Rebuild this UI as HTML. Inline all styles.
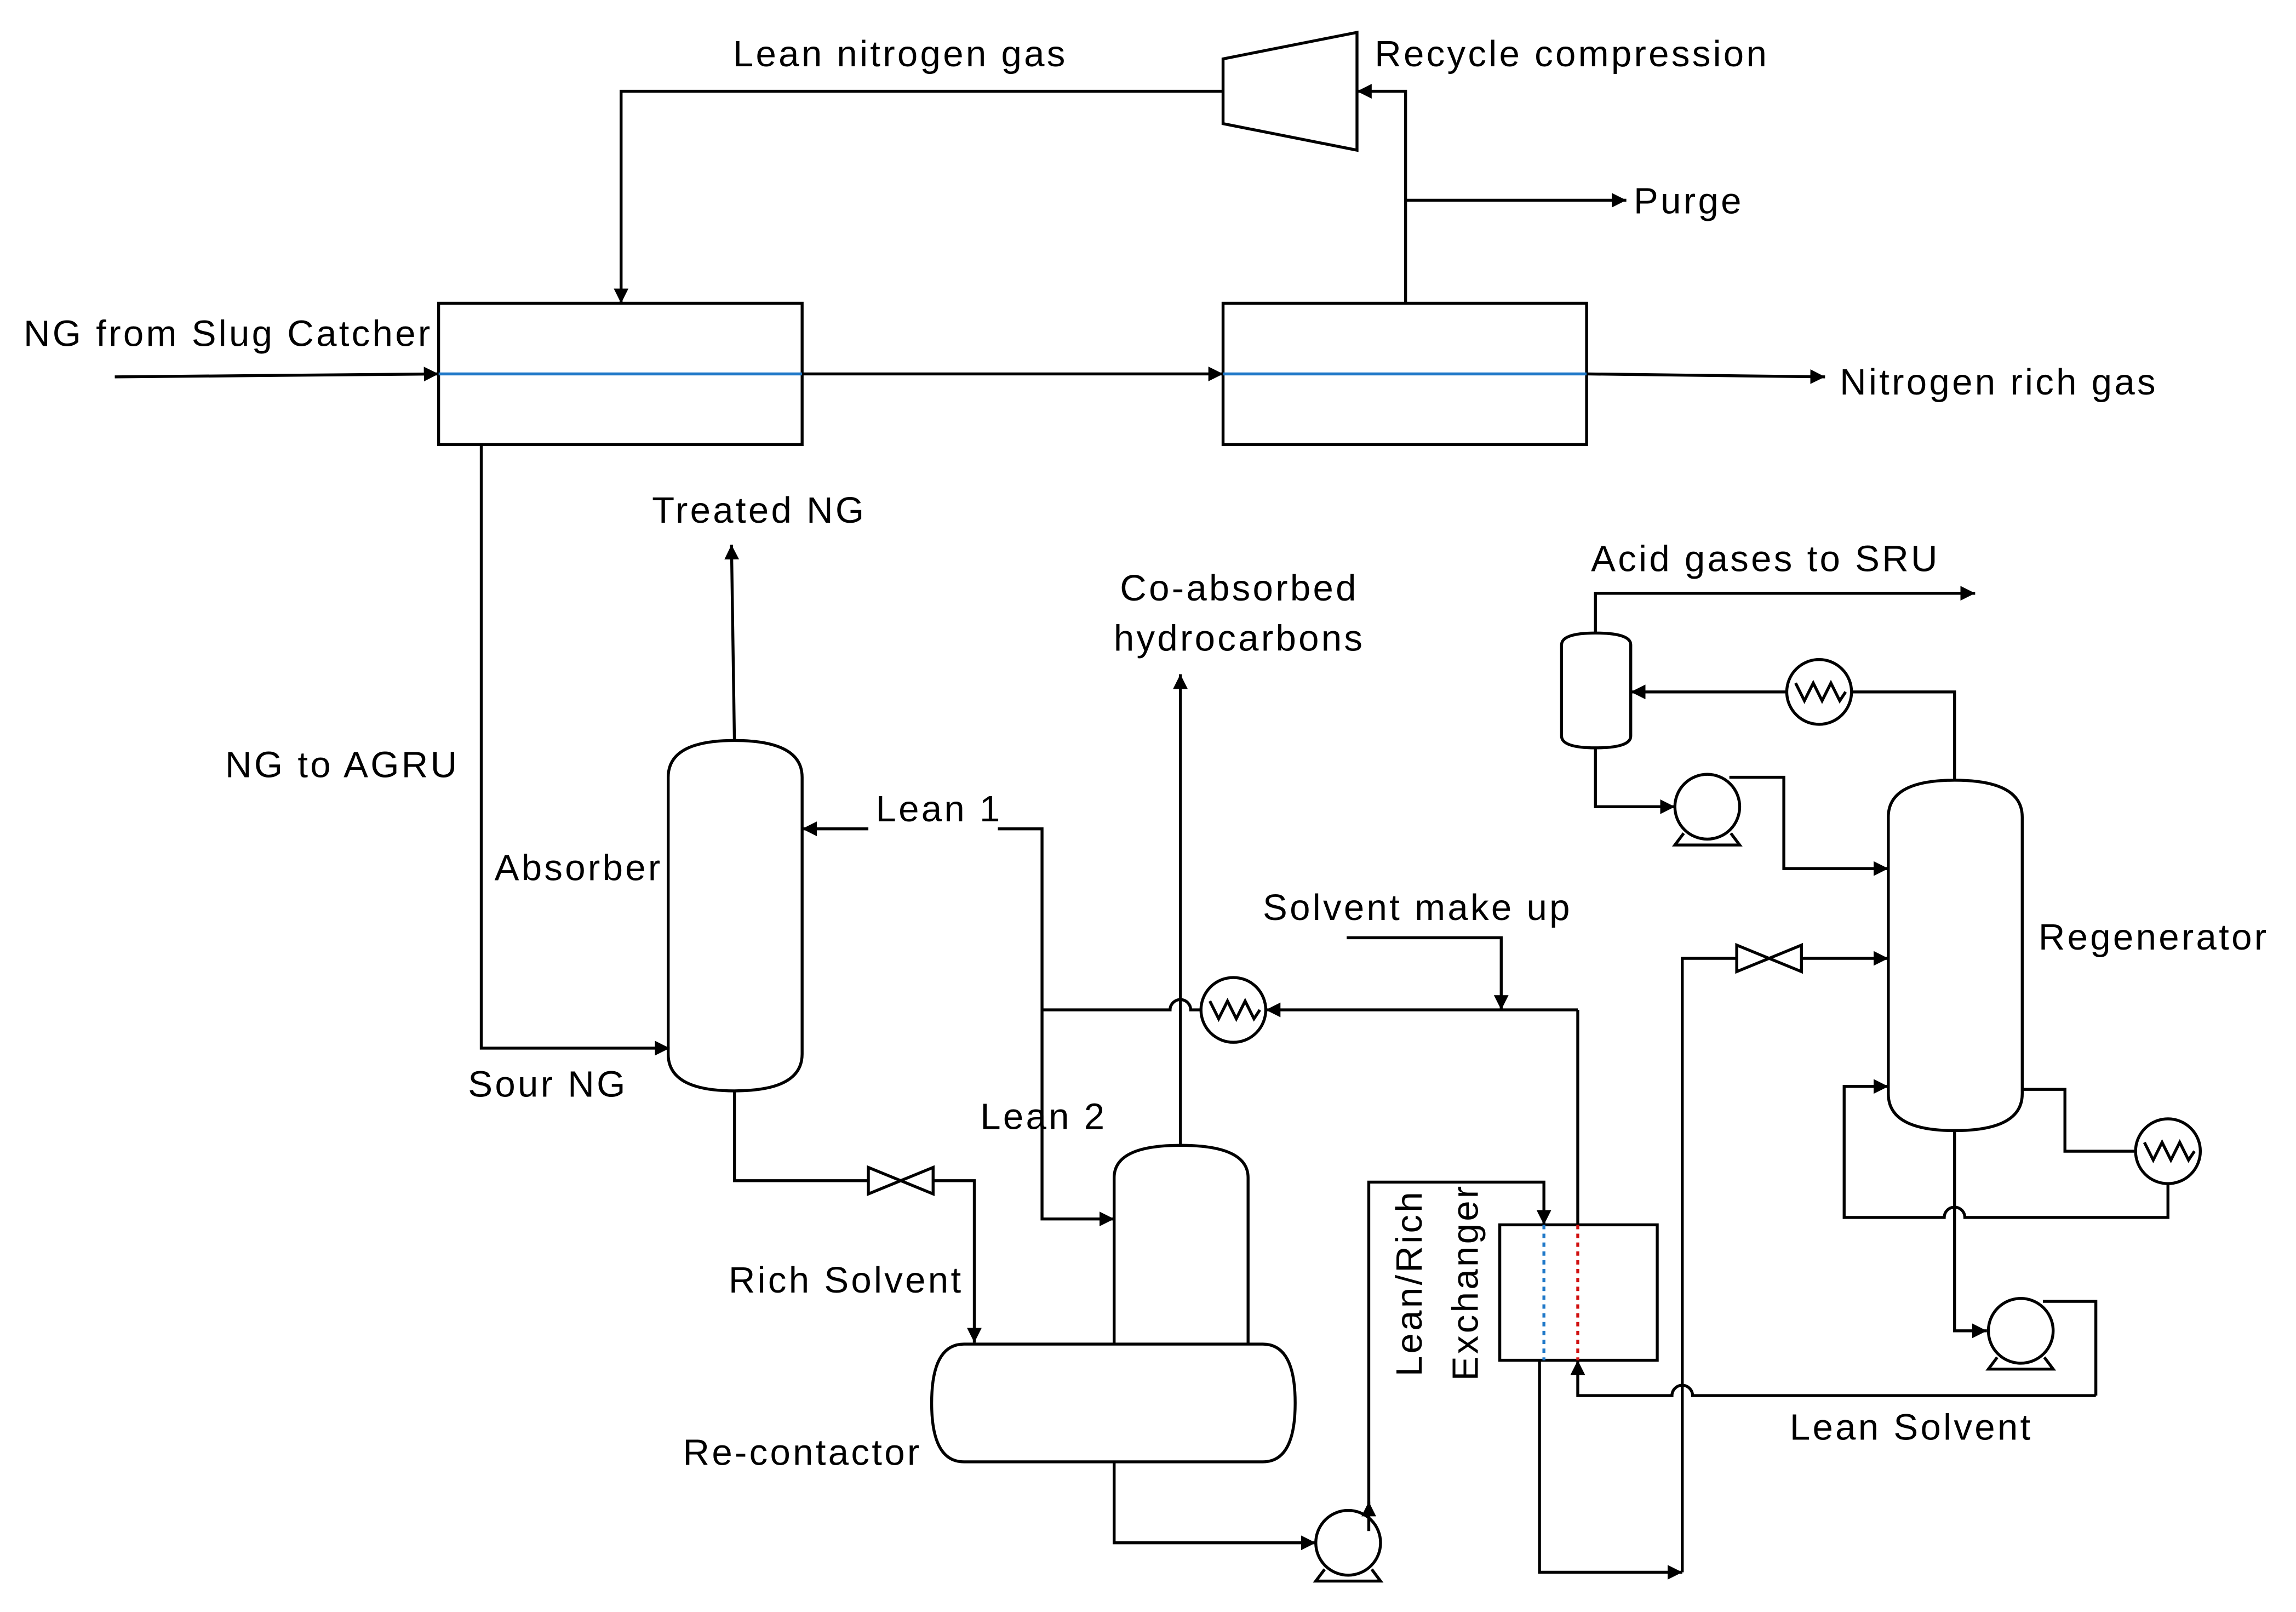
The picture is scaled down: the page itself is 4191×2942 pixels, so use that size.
<!DOCTYPE html>
<html><head><meta charset="utf-8"><style>
html,body{margin:0;padding:0;background:#fff;}
svg{display:block;}
text{font-family:"Liberation Sans","DejaVu Sans",sans-serif;font-size:25px;letter-spacing:1.6px;fill:#000;}
</style></head><body>
<svg width="4191" height="2942" viewBox="0 0 1560 1095" preserveAspectRatio="none" xmlns="http://www.w3.org/2000/svg">
<defs>
<marker id="a" viewBox="0 0 10 10" refX="10" refY="5" markerWidth="5" markerHeight="5" orient="auto"><path d="M0,0 L10,5 L0,10 Z" fill="#000"/></marker>
</defs>
<rect width="1560" height="1095" fill="#fff"/>
<g fill="none" stroke="#000" stroke-width="2">
<rect x="298" y="206" width="247" height="96"/>
<rect x="831" y="206" width="247" height="96"/>
<line x1="298" y1="254" x2="545" y2="254" stroke="#1f78c8"/>
<line x1="831" y1="254" x2="1078" y2="254" stroke="#1f78c8"/>
<line x1="78" y1="256" x2="298" y2="254" marker-end="url(#a)"/>
<line x1="545" y1="254" x2="831" y2="254" marker-end="url(#a)"/>
<line x1="1078" y1="254" x2="1240" y2="256" marker-end="url(#a)"/>
<polyline points="955,206 955,62 922,62" marker-end="url(#a)"/>
<line x1="955" y1="136" x2="1105" y2="136" marker-end="url(#a)"/>
<polygon points="831,40 922,22 922,102 831,84"/>
<polyline points="831,62 422,62 422,206" marker-end="url(#a)"/>
<polyline points="327,302 327,712 455,712" marker-end="url(#a)"/>
<path d="M454,528 Q454,503 499,503 Q545,503 545,528 V716 Q545,741 499,741 Q454,741 454,716 Z"/>
<line x1="499" y1="503" x2="497" y2="370" marker-end="url(#a)"/>
<polyline points="499,741 499,802 590,802"/>
<path d="M590,793 L634,811 L634,793 L590,811 Z"/>
<polyline points="634,802 662,802 662,912" marker-end="url(#a)"/>
<path d="M655,913 H858 Q880,913 880,953 Q880,993 858,993 H655 Q633,993 633,953 Q633,913 655,913 Z"/>
<path d="M757,913 V800 Q757,778 802,778 Q848,778 848,800 V913"/>
<line x1="802" y1="778" x2="802" y2="458" marker-end="url(#a)"/>
<line x1="590" y1="563" x2="545" y2="563" marker-end="url(#a)"/>
<polyline points="678,563 708,563 708,828 757,828" marker-end="url(#a)"/>
<path d="M708,686 H795 A7,7 0 0 1 809,686 H816"/>
<circle cx="838" cy="686" r="22"/>
<polyline points="822,680 828,692 834,680 840,692 846,680 852,692 856,686"/>
<line x1="1072" y1="686" x2="860" y2="686" marker-end="url(#a)"/>
<polyline points="915,637 1020,637 1020,686" marker-end="url(#a)"/>
<line x1="1072" y1="686" x2="1072" y2="832"/>
<rect x="1019" y="832" width="107" height="92"/>
<line x1="1049" y1="832" x2="1049" y2="924" stroke="#1f78c8" stroke-dasharray="3,3"/>
<line x1="1072" y1="832" x2="1072" y2="924" stroke="#d01010" stroke-dasharray="3,3"/>
<polyline points="757,993 757,1048 894,1048" marker-end="url(#a)"/>
<circle cx="916" cy="1048" r="22"/>
<polyline points="900,1066 894,1074 938,1074 932,1066"/>
<polyline points="930,1030 930,803 1049,803 1049,832" marker-end="url(#a)"/>
<line x1="930" y1="1040" x2="930" y2="1020" marker-end="url(#a)"/>
<polyline points="1046,924 1046,1068 1143,1068" marker-end="url(#a)"/>
<path d="M1143,1068 V651 H1180"/>
<path d="M1180,642 L1224,660 L1224,642 L1180,660 Z"/>
<line x1="1224" y1="651" x2="1283" y2="651" marker-end="url(#a)"/>
<path d="M1424,948 H1150 A7,7 0 0 0 1136,948 H1072 V924" marker-end="url(#a)"/>
<path d="M1283,555 Q1283,530 1328,530 Q1374,530 1374,555 V743 Q1374,768 1328,768 Q1283,768 1283,743 Z"/>
<polyline points="1328,530 1328,470 1258,470"/>
<circle cx="1236" cy="470" r="22"/>
<polyline points="1220,464 1226,476 1232,464 1238,476 1244,464 1250,476 1254,470"/>
<line x1="1214" y1="470" x2="1108" y2="470" marker-end="url(#a)"/>
<path d="M1061,438 Q1061,430 1084,430 Q1108,430 1108,438 V500 Q1108,508 1084,508 Q1061,508 1061,500 Z"/>
<polyline points="1084,430 1084,403 1342,403" marker-end="url(#a)"/>
<polyline points="1084,508 1084,548 1138,548" marker-end="url(#a)"/>
<circle cx="1160" cy="548" r="22"/>
<polyline points="1144,566 1138,574 1182,574 1176,566"/>
<polyline points="1175,528 1212,528 1212,590 1283,590" marker-end="url(#a)"/>
<polyline points="1374,740 1403,740 1403,782 1450,782"/>
<circle cx="1473" cy="782" r="22"/>
<polyline points="1457,776 1463,788 1469,776 1475,788 1481,776 1487,788 1491,782"/>
<path d="M1473,804 V827 H1335 A7,7 0 0 0 1321,827 H1253 V738 H1283" marker-end="url(#a)"/>
<polyline points="1328,768 1328,904 1350,904" marker-end="url(#a)"/>
<circle cx="1373" cy="904" r="22"/>
<polyline points="1357,922 1351,930 1395,930 1389,922"/>
<polyline points="1388,884 1424,884 1424,948"/>
</g>
<text x="498" y="45">Lean nitrogen gas</text>
<text x="934" y="45">Recycle compression</text>
<text x="1110" y="145">Purge</text>
<text x="16" y="235">NG from Slug Catcher</text>
<text x="1250" y="268">Nitrogen rich gas</text>
<text x="443" y="355">Treated NG</text>
<text x="842" y="408" text-anchor="middle">Co-absorbed</text>
<text x="842" y="442" text-anchor="middle">hydrocarbons</text>
<text x="1081" y="388">Acid gases to SRU</text>
<text x="153" y="528">NG to AGRU</text>
<text x="595" y="558">Lean 1</text>
<text x="336" y="598">Absorber</text>
<text x="858" y="625">Solvent make up</text>
<text x="1385" y="645">Regenerator</text>
<text x="318" y="745">Sour NG</text>
<text x="666" y="767">Lean 2</text>
<text x="495" y="878">Rich Solvent</text>
<text x="1216" y="978">Lean Solvent</text>
<text x="464" y="995">Re-contactor</text>
<text transform="translate(966,935) rotate(-90)">Lean/Rich</text>
<text transform="translate(1004,938) rotate(-90)">Exchanger</text>
</svg>
</body></html>
